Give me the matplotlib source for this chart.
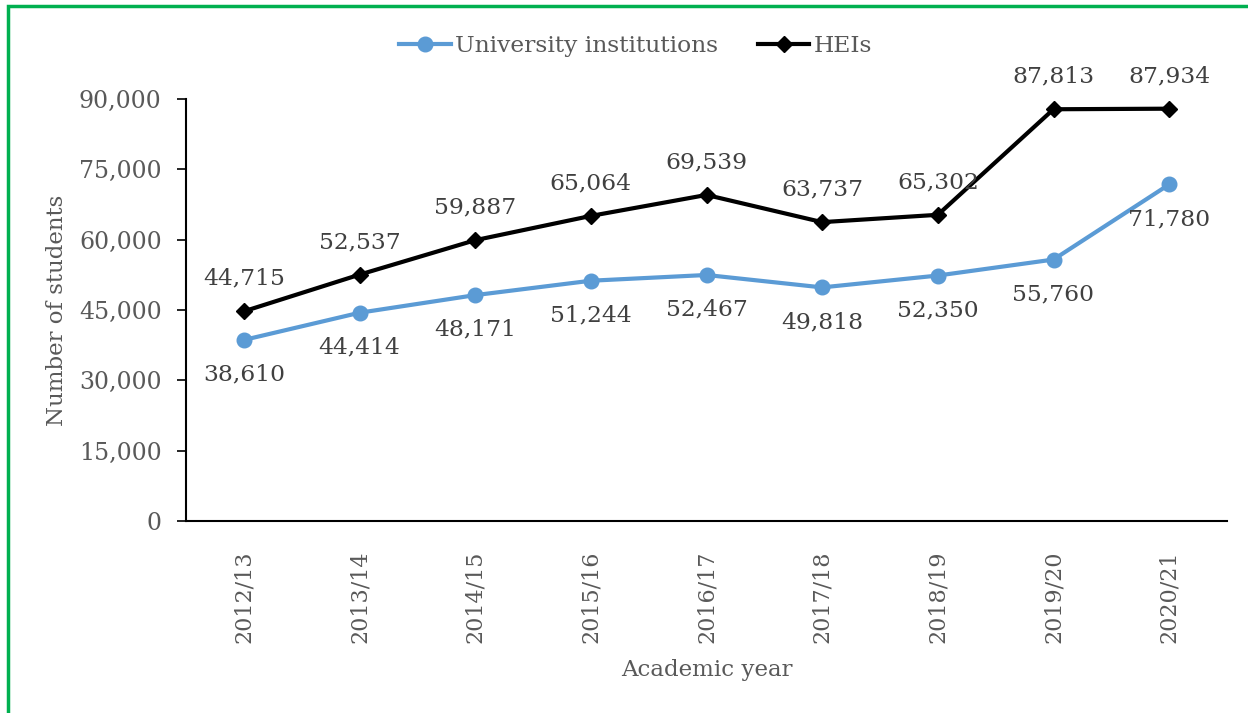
import matplotlib
matplotlib.use("Agg")
import matplotlib.pyplot as plt
from matplotlib.patches import Rectangle
from matplotlib.ticker import FuncFormatter

years = ["2012/13", "2013/14", "2014/15", "2015/16", "2016/17",
         "2017/18", "2018/19", "2019/20", "2020/21"]
university = [38610, 44414, 48171, 51244, 52467, 49818, 52350, 55760, 71780]
heis = [44715, 52537, 59887, 65064, 69539, 63737, 65302, 87813, 87934]

W, H = 1248, 713
fig = plt.figure(figsize=(W / 100, H / 100), dpi=100)
plt.rcParams['font.family'] = ['DejaVu Serif']
txt = '#595959'
fs = 16.8

ax = fig.add_axes([186 / W, 1 - 521 / H, (1227 - 186) / W, (521 - 99) / H])
x = list(range(len(years)))
ax.plot(x, university, color='#5B9BD5', lw=3, marker='o', ms=10.5,
        label='University institutions', clip_on=False, zorder=3)
ax.plot(x, heis, color='black', lw=3, marker='D', ms=8,
        label='HEIs', clip_on=False, zorder=3)

for xi, v in zip(x, university):
    ax.annotate(f"{v:,}", (xi, v), xytext=(0, -25), textcoords='offset points',
                ha='center', va='center', fontsize=fs, color='#404040')
for xi, v in zip(x, heis):
    ax.annotate(f"{v:,}", (xi, v), xytext=(0, 23.5), textcoords='offset points',
                ha='center', va='center', fontsize=fs, color='#404040')

ax.set_xlim(-0.5, len(years) - 0.5)
ax.set_ylim(0, 90000)
ax.set_yticks(range(0, 90001, 15000))
ax.yaxis.set_major_formatter(FuncFormatter(lambda v, p: f"{int(v):,}"))
ax.set_xticks(x)
ax.set_xticklabels(years, rotation=90)
ax.tick_params(axis='x', length=0, pad=21, labelsize=16, labelcolor=txt)
ax.tick_params(axis='y', length=6.5, width=1.2, pad=11, labelsize=17, labelcolor=txt)
for s in ['top', 'right']:
    ax.spines[s].set_visible(False)
for s in ['left', 'bottom']:
    ax.spines[s].set_linewidth(1.5)
ax.set_ylabel("Number of students", fontsize=16.5, color=txt, labelpad=8)
ax.set_xlabel("Academic year", fontsize=16.5, color=txt, labelpad=12)

leg = fig.legend(loc='center', bbox_to_anchor=(636 / W, 1 - 46 / H), ncol=2,
                 frameon=False, fontsize=fs, handlelength=2.2, columnspacing=1.7,
                 handletextpad=0.2)
for t in leg.get_texts():
    t.set_color(txt)

fig.patches.append(Rectangle((8 / W, -0.1), 1.2, 1 - 6 / H + 0.1,
                             transform=fig.transFigure, fill=False,
                             edgecolor='#00B050', lw=2.5, figure=fig))

fig.savefig("out.png", dpi=100)
